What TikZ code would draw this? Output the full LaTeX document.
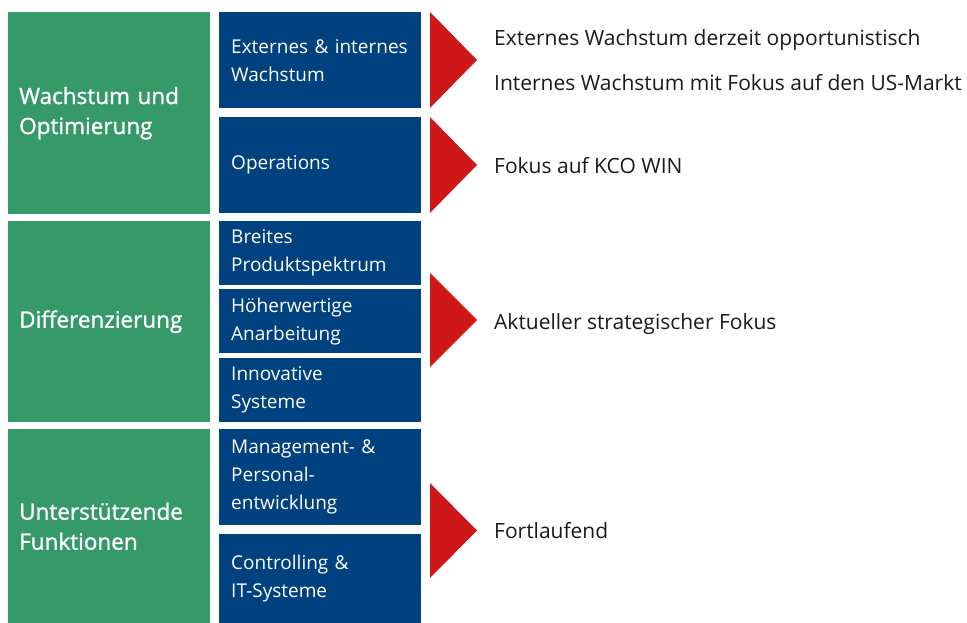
\documentclass[tikz,border=0pt]{standalone}
\usepackage{fontspec}
\setmainfont{Open Sans}
\newfontfamily\greenfont[FakeBold=1.3]{Open Sans}
\definecolor{kgreen}{HTML}{359968}
\definecolor{kblue}{HTML}{00427F}
\definecolor{kred}{HTML}{CD1719}
\definecolor{ktext}{HTML}{1A1A1A}
\tikzset{
  greenbox/.style={fill=kgreen, text=white, anchor=north west, inner sep=0pt, inner xsep=11pt,
    minimum width=202pt, text width=180pt, align=left,
    font=\greenfont\fontsize{22.5}{30}\selectfont},
  bluebox/.style={fill=kblue, text=white, anchor=north west, inner sep=0pt, inner xsep=12pt,
    minimum width=202pt, text width=178pt, align=left,
    font=\fontsize{19}{28}\selectfont},
  redtri/.style={fill=kred},
  righttext/.style={anchor=base west, inner sep=0pt, text=ktext, font=\fontsize{21}{28}\selectfont}
}
\begin{document}
\begin{tikzpicture}[x=1pt,y=-1pt]
\useasboundingbox (0,0) rectangle (967,623);
% green
\node[greenbox, minimum height=202pt] (g1) at (8,12) {Wachstum und\\Optimierung};
\node[greenbox, minimum height=201pt] (g2) at (8,221) {Differenzierung};
\node[greenbox, minimum height=194pt] (g3) at (8,429) {Unterstützende\\Funktionen};
% blue
\node[bluebox, minimum height=96pt] (b1) at (219,12) {Externes \& internes\\Wachstum};
\node[bluebox, minimum height=96pt] (b2) at (219,117) {Operations};
\node[bluebox, minimum height=64pt] (b3) at (219,221) {Breites\\Produktspektrum};
\node[bluebox, minimum height=64pt] (b4) at (219,289) {Höherwertige\\Anarbeitung};
\node[bluebox, minimum height=64pt] (b5) at (219,358) {Innovative\\Systeme};
\node[bluebox, minimum height=96pt] (b6) at (219,429) {Management- \&\\Personal-\\entwicklung};
\node[bluebox, minimum height=89pt] (b7) at (219,534) {Controlling \&\\IT-Systeme};
% triangles
\fill[redtri] (430,12) -- (477,60) -- (430,108) -- cycle;
\fill[redtri] (430,117) -- (477,165) -- (430,213) -- cycle;
\fill[redtri] (430,273) -- (477,320) -- (430,367) -- cycle;
\fill[redtri] (430,483) -- (477,530.5) -- (430,578) -- cycle;
% right texts
\node[righttext] (t1) at (494,46) {Externes Wachstum derzeit opportunistisch};
\node[righttext] (t2) at (494,91) {Internes Wachstum mit Fokus auf den US-Markt};
\node[righttext] (t3) at (494,174) {Fokus auf KCO WIN};
\node[righttext] (t4) at (494,329) {Aktueller strategischer Fokus};
\node[righttext] (t5) at (494,538) {Fortlaufend};
\end{tikzpicture}
\end{document}
